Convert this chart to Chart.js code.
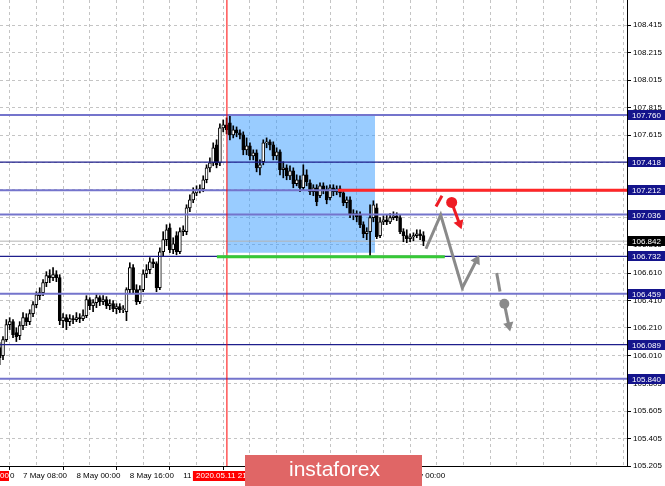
<!DOCTYPE html>
<html>
<head>
<meta charset="utf-8">
<script src="https://cdn.jsdelivr.net/npm/chart.js@4.4.0/dist/chart.umd.min.js"></script>
<style>
  html, body { margin: 0; padding: 0; background: #fff; }
  canvas { display: block; }
</style>
</head>
<body>
<canvas id="chart" width="665" height="486"></canvas>
<script>
// H1 candles, one per bar index
const open = [
  106.067, 106.009, 106.125, 106.234, 106.256, 106.176, 106.154, 106.227,
  106.285, 106.256, 106.314, 106.380, 106.445, 106.467, 106.540, 106.591,
  106.576, 106.598, 106.576, 106.263, 106.285, 106.256, 106.278, 106.271,
  106.285, 106.278, 106.300, 106.416, 106.373, 106.394, 106.431, 106.402,
  106.416, 106.373, 106.387, 106.351, 106.365, 106.343, 106.329, 106.489,
  106.649, 106.489, 106.402, 106.489, 106.605, 106.634, 106.692, 106.678,
  106.503, 106.765, 106.853, 106.940, 106.780, 106.882, 106.765, 106.911,
  106.911, 107.085, 107.143, 107.194, 107.216, 107.223, 107.289, 107.376,
  107.413, 107.543, 107.413, 107.667, 107.689, 107.703, 107.616, 107.653,
  107.631, 107.616, 107.507, 107.536, 107.463, 107.485, 107.376, 107.420,
  107.558, 107.565, 107.543, 107.463, 107.493, 107.362, 107.376, 107.318,
  107.354, 107.260, 107.289, 107.231, 107.325, 107.267, 107.202, 107.231,
  107.173, 107.245, 107.216, 107.158, 107.231, 107.202, 107.223, 107.194,
  107.122, 107.143, 107.034, 107.042, 107.034, 106.962, 106.896, 106.911,
  107.013, 107.085, 106.882, 106.983, 106.998, 106.983, 107.013, 107.027,
  107.013, 106.911, 106.882, 106.860, 106.874, 106.882, 106.896, 106.882
];
const high = [
  106.104, 106.147, 106.271, 106.285, 106.271, 106.212, 106.256, 106.322,
  106.314, 106.343, 106.402, 106.474, 106.503, 106.562, 106.620, 106.634,
  106.649, 106.627, 106.598, 106.314, 106.307, 106.307, 106.300, 106.322,
  106.314, 106.343, 106.445, 106.431, 106.416, 106.452, 106.445, 106.445,
  106.438, 106.416, 106.409, 106.387, 106.387, 106.373, 106.503, 106.685,
  106.671, 106.525, 106.518, 106.634, 106.671, 106.722, 106.714, 106.692,
  106.794, 106.911, 106.962, 106.969, 106.867, 106.911, 106.940, 106.954,
  107.107, 107.180, 107.231, 107.245, 107.253, 107.318, 107.398, 107.449,
  107.558, 107.580, 107.696, 107.725, 107.740, 107.754, 107.682, 107.674,
  107.653, 107.638, 107.594, 107.558, 107.507, 107.507, 107.434, 107.580,
  107.594, 107.580, 107.565, 107.522, 107.507, 107.420, 107.398, 107.391,
  107.376, 107.325, 107.318, 107.398, 107.362, 107.289, 107.253, 107.253,
  107.267, 107.267, 107.245, 107.253, 107.253, 107.245, 107.245, 107.216,
  107.165, 107.165, 107.071, 107.063, 107.056, 106.983, 106.940, 107.107,
  107.136, 107.114, 107.013, 107.027, 107.034, 107.042, 107.056, 107.049,
  107.034, 106.933, 106.925, 106.896, 106.903, 106.925, 106.925, 106.911
];
const low = [
  105.943, 105.980, 106.111, 106.198, 106.140, 106.111, 106.125, 106.198,
  106.227, 106.234, 106.292, 106.358, 106.416, 106.445, 106.511, 106.540,
  106.554, 106.547, 106.234, 106.212, 106.198, 106.227, 106.242, 106.256,
  106.249, 106.263, 106.285, 106.343, 106.329, 106.358, 106.373, 106.380,
  106.351, 106.343, 106.329, 106.314, 106.322, 106.322, 106.263, 106.467,
  106.460, 106.380, 106.387, 106.474, 106.576, 106.605, 106.649, 106.474,
  106.489, 106.736, 106.809, 106.758, 106.751, 106.743, 106.751, 106.882,
  106.889, 107.056, 107.122, 107.173, 107.194, 107.202, 107.267, 107.347,
  107.391, 107.376, 107.391, 107.638, 107.623, 107.580, 107.594, 107.602,
  107.587, 107.471, 107.471, 107.434, 107.434, 107.347, 107.325, 107.398,
  107.522, 107.507, 107.434, 107.434, 107.325, 107.303, 107.289, 107.289,
  107.231, 107.245, 107.202, 107.216, 107.245, 107.180, 107.173, 107.100,
  107.158, 107.187, 107.114, 107.143, 107.173, 107.180, 107.165, 107.100,
  107.085, 107.013, 106.998, 106.983, 106.940, 106.867, 106.853, 106.736,
  106.983, 106.860, 106.867, 106.962, 106.962, 106.969, 106.998, 106.991,
  106.896, 106.838, 106.831, 106.838, 106.845, 106.867, 106.853, 106.809
];
const close = [
  105.994, 106.125, 106.234, 106.256, 106.162, 106.147, 106.227, 106.285,
  106.256, 106.314, 106.380, 106.452, 106.467, 106.540, 106.591, 106.576,
  106.598, 106.576, 106.263, 106.285, 106.256, 106.278, 106.271, 106.285,
  106.278, 106.300, 106.416, 106.373, 106.394, 106.431, 106.402, 106.416,
  106.373, 106.387, 106.351, 106.365, 106.343, 106.351, 106.489, 106.649,
  106.489, 106.402, 106.489, 106.605, 106.634, 106.692, 106.678, 106.503,
  106.765, 106.853, 106.925, 106.780, 106.823, 106.765, 106.911, 106.925,
  107.085, 107.143, 107.194, 107.216, 107.223, 107.289, 107.376, 107.413,
  107.522, 107.398, 107.667, 107.689, 107.653, 107.616, 107.653, 107.631,
  107.616, 107.507, 107.536, 107.463, 107.485, 107.376, 107.398, 107.558,
  107.565, 107.543, 107.463, 107.493, 107.362, 107.376, 107.318, 107.354,
  107.260, 107.289, 107.231, 107.325, 107.274, 107.202, 107.231, 107.129,
  107.245, 107.216, 107.143, 107.231, 107.202, 107.223, 107.194, 107.122,
  107.143, 107.034, 107.042, 107.020, 106.962, 106.896, 106.911, 107.013,
  107.107, 106.874, 106.983, 106.998, 106.983, 107.013, 107.027, 107.013,
  106.911, 106.882, 106.860, 106.874, 106.882, 106.896, 106.882, 106.842
];

// price axis ticks and time labels (bar index -> text)
const priceTicks = [105.205, 105.405, 105.605, 105.805, 106.010, 106.210, 106.410, 106.610,
  106.815, 107.015, 107.215, 107.415, 107.615, 107.815, 108.015, 108.215, 108.415];
const gridBars = [7, 15, 23, 31, 39, 47, 55, 63, 71, 79, 87, 95, 103, 111, 119, 127, 135, 143, 151, 159, 167, 175, 183];
const timeLabels = {7: '7 May 08:00', 23: '8 May 00:00', 39: '8 May 16:00', 55: '11 May 08:00',
  71: '12 May 00:00', 87: '12 May 16:00', 103: '13 May 08:00', 119: '14 May 00:00'};

// horizontal levels
const levels = [107.760, 107.418, 107.212, 107.036, 106.732, 106.459, 106.089, 105.840];
const levelDark = [false, true, false, false, true, false, true, false];
const bid = 106.842;

// marked zone & drawn forecast
const markBar = 68.1;
const markLabel = '2020.05.11 21:00';
const zoneBars = [68.1, 112.5];
const zonePrices = [107.754, 106.758];
const resistance = {bars: [101.4, 190], price: 107.212};
const support = {bars: [65.1, 133.4], price: 106.729};
const mainPathBars = [127.76, 132.16, 138.64, 142.9];
const mainPathPrices = [106.787, 107.034, 106.501, 106.703];
const redTickBars = [130.76, 132.55];
const redTickPrices = [107.095, 107.172];
const redDotBar = 135.46, redDotPrice = 107.124;
const redArrowBars = [135.46, 137.8];
const redArrowPrices = [107.124, 106.969];
const grayTickBars = [148.95, 149.94];
const grayTickPrices = [106.610, 106.476];
const grayDotBar = 151.23, grayDotPrice = 106.387;
const grayArrowBars = [151.23, 152.6];
const grayArrowPrices = [106.387, 106.227];

const font8 = {family: 'Liberation Sans', size: 8};

function pts(xs, ys) {
  return xs.map((x, i) => ({x: x, y: Array.isArray(ys) ? ys[i] : ys}));
}
function lineSet(data, color, width, order, extra) {
  return Object.assign({
    type: 'line', data: data, borderColor: color, borderWidth: width,
    pointRadius: 0, fill: false, tension: 0, order: order
  }, extra || {});
}
function arrowSet(data, color, rot, order) {
  const n = data.length;
  return lineSet(data, color, 3, order, {
    pointRadius: data.map((d, i) => i === n - 1 ? 6 : 0),
    pointStyle: 'triangle',
    rotation: rot,
    pointBackgroundColor: color,
    pointBorderWidth: 0
  });
}

const datasets = [];

// forecast drawings (on top)
datasets.push(arrowSet(pts(mainPathBars, mainPathPrices), '#8a8a8a', 27, 0));
datasets.push(lineSet(pts(grayTickBars, grayTickPrices), '#8a8a8a', 3, 0));
datasets.push(lineSet(pts([grayDotBar], grayDotPrice), '#8a8a8a', 0, 0,
  {pointRadius: 5, pointBackgroundColor: '#8a8a8a', pointBorderWidth: 0, showLine: false}));
datasets.push(arrowSet(pts(grayArrowBars, grayArrowPrices), '#8a8a8a', 168, 0));
datasets.push(lineSet(pts(redTickBars, redTickPrices), '#ee1c24', 3, 0));
datasets.push(lineSet(pts([redDotBar], redDotPrice), '#ee1c24', 0, 0,
  {pointRadius: 5.5, pointBackgroundColor: '#ee1c24', pointBorderWidth: 0, showLine: false}));
datasets.push(arrowSet(pts(redArrowBars, redArrowPrices), '#ee1c24', 160, 0));

// support / resistance and the marker line
datasets.push(lineSet(pts(resistance.bars, resistance.price), '#ff2626', 3, 0.5));
datasets.push(lineSet(pts(support.bars, support.price), '#36c936', 3, 0.5));
datasets.push(lineSet(pts([markBar, markBar], [104, 110]), '#ff0000', 1, 0.5));

// levels
levels.forEach((v, i) => {
  datasets.push(lineSet(pts([-2, 190], v), levelDark[i] ? '#1e1e8c' : '#7474cc',
    levelDark[i] ? 1.2 : 2, 1));
});
datasets.push(lineSet(pts([-2, 190], bid), '#b4b4b4', 1, 4));

// candles
datasets.push({
  type: 'bar',
  data: open.map((o, i) => ({x: i, y: [o, close[i]]})),
  backgroundColor: open.map((o, i) => close[i] >= o ? '#ffffff' : '#000000'),
  borderColor: '#000',
  borderWidth: 1,
  borderSkipped: false,
  grouped: false,
  barThickness: 3,
  maxBarThickness: 3,
  minBarLength: 1,
  order: 2
});
datasets.push({
  type: 'bar',
  data: open.map((o, i) => ({x: i, y: [low[i], high[i]]})),
  backgroundColor: '#000',
  borderWidth: 0,
  grouped: false,
  barThickness: 1,
  maxBarThickness: 1,
  order: 3
});

// zone rectangle
datasets.push(lineSet(pts(zoneBars, zonePrices[0]), 'rgba(0,0,0,0)', 0, 10, {
  fill: {value: zonePrices[1]},
  backgroundColor: 'rgba(51,153,255,0.5)'
}));

// price tags on the axis, time marker label, watermark
const overlay = {
  id: 'overlay',
  afterDraw(chart) {
    const {ctx, scales: {x, y}} = chart;
    ctx.save();
    ctx.font = '8px "Liberation Sans"';
    ctx.textBaseline = 'middle';
    ctx.textAlign = 'left';
    const tag = (v, bg) => {
      const py = Math.round(y.getPixelForValue(v));
      ctx.fillStyle = bg;
      ctx.fillRect(628, py - 5, 37, 10);
      ctx.fillStyle = '#fff';
      ctx.fillText(v.toFixed(3), 632, py + 0.5);
    };
    levels.forEach(v => tag(v, '#14148c'));
    tag(bid, '#000');

    // vertical marker time label
    const vx = x.getPixelForValue(markBar);
    ctx.fillStyle = '#ff0000';
    ctx.fillRect(vx - 34, 471, 68, 10);
    ctx.fillStyle = '#fff';
    ctx.textAlign = 'center';
    ctx.fillText(markLabel, vx, 476);
    // clipped marker label at the left edge
    ctx.fillStyle = '#ff0000';
    ctx.fillRect(0, 471, 9, 10);
    ctx.fillStyle = '#fff';
    ctx.textAlign = 'right';
    ctx.fillText('00', 9, 476);
    ctx.fillStyle = '#000';
    ctx.textAlign = 'left';
    ctx.fillText('0', 10, 476);

    // watermark
    ctx.fillStyle = '#e06666';
    ctx.fillRect(245, 455, 177, 31);
    ctx.fillStyle = '#fff';
    ctx.font = '21px "Liberation Sans"';
    ctx.textAlign = 'left';
    ctx.fillText('instaforex', 289, 470);
    ctx.restore();
  }
};

Chart.defaults.font.family = 'Liberation Sans';

new Chart(document.getElementById('chart'), {
  type: 'bar',
  data: {datasets: datasets},
  plugins: [overlay],
  options: {
    responsive: false,
    animation: false,
    events: [],
    layout: {padding: 0, autoPadding: false},
    plugins: {legend: {display: false}, tooltip: {enabled: false}},
    scales: {
      x: {
        type: 'linear',
        min: 0.1,
        max: 188,
        offset: false,
        afterBuildTicks: s => { s.ticks = gridBars.map(v => ({value: v})); },
        afterFit: s => { s.height = 20; s.paddingLeft = 0; s.paddingRight = 0; },
        grid: {
          color: '#c4c4c4',
          tickLength: 4,
          tickColor: c => (c.tick && timeLabels[c.tick.value]) ? '#000' : 'rgba(0,0,0,0)'
        },
        border: {display: true, color: '#000', dash: [3, 3]},
        ticks: {
          autoSkip: false, maxRotation: 0, minRotation: 0, align: 'start', padding: 1,
          color: '#000', font: font8,
          callback: v => timeLabels[v] || ''
        }
      },
      y: {
        position: 'right',
        min: 105.205,
        max: 108.598,
        afterBuildTicks: s => { s.ticks = priceTicks.map(v => ({value: v})); },
        afterFit: s => { s.width = 38; s.paddingTop = 0; s.paddingBottom = 0; },
        grid: {color: '#c4c4c4', tickLength: 4, tickColor: '#000'},
        border: {display: true, color: '#000', dash: [3, 3]},
        ticks: {padding: 2, color: '#000', font: font8, callback: v => v.toFixed(3)}
      }
    }
  }
});
</script>
</body>
</html>
